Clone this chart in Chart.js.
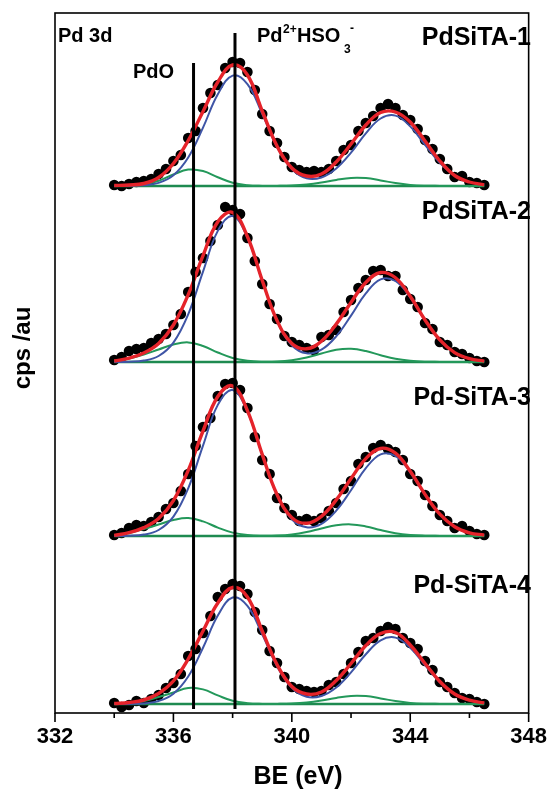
<!DOCTYPE html>
<html>
<head>
<meta charset="utf-8">
<title>Pd 3d XPS</title>
<script src="https://cdn.jsdelivr.net/npm/chart.js@4.4.1/dist/chart.umd.min.js"></script>
<style>
    html, body { margin: 0; padding: 0; background: #fff; }
    canvas { display: block; }
</style>
</head>
<body>
<canvas id="xpsChart" width="558" height="791"></canvas>
<script>
// Energies (eV) of the fitted curves and of the measured points
const beFit = [334, 334.5, 335, 335.5, 336, 336.5, 337, 337.5, 338, 338.5, 339, 339.5, 340,
    340.5, 341, 341.5, 342, 342.5, 343, 343.5, 344, 344.5, 345, 345.5, 346, 346.5];
const beDots = [334, 334.25, 334.5, 334.75, 335, 335.25, 335.5, 335.75, 336, 336.25, 336.5, 336.75,
    337, 337.25, 337.5, 337.75, 338, 338.25, 338.5, 338.75, 339, 339.25, 339.5, 339.75, 340,
    340.25, 340.5, 340.75, 341, 341.25, 341.5, 341.75, 342, 342.25, 342.5, 342.75, 343, 343.25,
    343.5, 343.75, 344, 344.25, 344.5, 344.75, 345, 345.25, 345.5, 345.75, 346, 346.25, 346.5];

const samples = ['PdSiTA-1', 'PdSiTA-2', 'Pd-SiTA-3', 'Pd-SiTA-4'];
// vertical shift of each spectrum (cps, stacked plot)
const offsets = [527, 351, 177, 9];

// PdSiTA-1
const fit1 = [0.5, 1, 2.5, 8.5, 22.5, 45.5, 74.5, 104, 121, 111, 75, 40, 18, 10, 12, 24, 42, 61, 73.5, 74, 64, 45, 25, 10.5, 4, 1.2];
const pd2_1 = [0, 0.1, 0.7, 3.1, 10.7, 28.5, 58.4, 91.7, 110.4, 101.9, 72.2, 39.3, 17, 7.7, 8.5, 17.5, 33.4, 52.7, 67.5, 70.4, 59.6, 41.1, 23.1, 10.5, 3.9, 1.2];
const pdo1 = [0, 0.3, 1.5, 5.2, 11.5, 16.4, 15, 8.8, 3.3, 0.8, 0.1, 0.1, 0.4, 1.4, 3.4, 6.1, 8.1, 7.9, 5.6, 2.9, 1.1, 0.3, 0.1, 0, 0, 0];
const dots1 = [1, 0, 2, 4, 5, 7, 12, 17, 25, 31, 48, 55, 78, 93, 101, 118, 124, 123, 114, 96, 72, 55, 43, 29, 19,
    16, 14, 15, 14, 17, 25, 36, 41, 55, 63, 70, 78, 82, 78, 71, 66, 57, 46, 37, 27, 17, 9, 10, 4, 3, 1];

// PdSiTA-2
const fit2 = [1, 3.8, 9, 18.5, 37, 67.3, 106.3, 140.2, 149.6, 125.5, 81.6, 41.5, 18.6, 13.2, 20.8, 37.9, 59.6, 79.5, 89.5, 84.2, 65.7, 42, 22.1, 9.4, 3.3, 0.9];
const pd2_2 = [0, 0.3, 1.4, 6, 19.4, 47.7, 90.4, 131.1, 145.9, 124.4, 81.3, 41, 16.8, 8.7, 12.3, 25.7, 46.4, 68.6, 82.7, 81, 64.5, 41.7, 22, 9.4, 3.3, 0.9];
const pdo2 = [0.8, 3.5, 7.5, 12.5, 17.5, 19.6, 16, 9.5, 4, 1.2, 0.3, 0.5, 1.8, 4.5, 8.5, 12.2, 13.2, 10.9, 6.8, 3.2, 1.2, 0.3, 0.1, 0, 0, 0];
const dots2 = [2, 5, 11, 13, 14, 19, 23, 28, 37, 48, 70, 90, 104, 121, 137, 155, 152, 148, 124, 101, 78, 58, 43, 26, 20,
    17, 14, 12, 25, 27, 32, 50, 62, 74, 82, 91, 92, 86, 86, 72, 63, 55, 39, 33, 20, 17, 10, 8, 4, 1, 0];

// Pd-SiTA-3
const fit3 = [0.7, 3.3, 8.4, 17.5, 35.4, 65.7, 105, 139.5, 150, 125.4, 81.6, 41.5, 18.4, 12.7, 19.7, 36.1, 57.4, 77.4, 87.7, 82.8, 64.7, 41.6, 21.8, 9.3, 3.2, 0.9];
const pd2_3 = [0, 0.3, 1.4, 6, 19.4, 47.7, 90.4, 131.1, 145.9, 124.4, 81.3, 41, 16.8, 8.7, 12.2, 25.4, 45.8, 67.8, 81.7, 80, 63.7, 41.3, 21.7, 9.3, 3.2, 0.9];
const pdo3 = [0.7, 3, 7, 11.5, 16, 18, 14.6, 8.4, 3.4, 1, 0.3, 0.5, 1.6, 4, 7.5, 10.7, 11.6, 9.6, 6, 2.8, 1, 0.3, 0.1, 0, 0, 0];
const dots3 = [1, 3, 8, 11, 10, 14, 19, 27, 33, 45, 62, 90, 109, 118, 140, 152, 153, 146, 128, 99, 76, 62, 38, 28, 21,
    15, 17, 15, 18, 25, 33, 47, 55, 72, 79, 88, 91, 87, 84, 76, 62, 55, 41, 30, 21, 15, 8, 10, 5, 2, 1];

// Pd-SiTA-4
const fit4 = [0.5, 1.5, 4, 10.5, 23, 45, 73, 101, 116.5, 107, 73, 39.5, 17.5, 10, 12, 23.5, 40.5, 58.5, 70.5, 71.5, 59, 40.5, 22.5, 10, 3.8, 1.1];
const pd2_4 = [0, 0.1, 0.6, 3, 10.3, 27.5, 56.3, 88.4, 106.5, 98.2, 69.6, 37.9, 16.3, 7.3, 8, 16.5, 31.6, 49.7, 63.7, 66.4, 56.3, 38.8, 21.8, 9.9, 3.7, 1.1];
const pdo4 = [0, 1, 3, 7, 11.5, 16, 14.6, 8.6, 3.2, 0.8, 0.1, 0.1, 0.4, 1.4, 3.4, 6.1, 8.1, 7.9, 5.6, 2.9, 1.1, 0.3, 0.1, 0, 0, 0];
const dots4 = [1, -3, -1, 3, 1, 5, 9, 16, 21, 30, 48, 55, 71, 88, 107, 115, 120, 118, 110, 92, 74, 53, 41, 27, 17,
    15, 13, 12, 13, 19, 22, 30, 41, 52, 63, 66, 73, 77, 75, 66, 61, 55, 43, 34, 22, 17, 11, 6, 5, 2, 0];

// reference positions (eV) and the height where each marker line stops
const markerBE = [336.68, 338.08];
const markerTop = [650, 680];

const fits = [fit1, fit2, fit3, fit4];
const pd2Parts = [pd2_1, pd2_2, pd2_3, pd2_4];
const pdoParts = [pdo1, pdo2, pdo3, pdo4];
const dots = [dots1, dots2, dots3, dots4];

const FONT = '"Liberation Sans", Arial, sans-serif';

function toPoints(xs, ys, offset) {
    return xs.map((x, i) => ({ x: x, y: ys[i] + offset }));
}

const datasets = [];

markerBE.forEach((be, i) => {
    datasets.push({
        data: [{ x: be, y: 4 }, { x: be, y: markerTop[i] }],
        borderColor: '#000', borderWidth: 3, pointRadius: 0, order: -1
    });
});

samples.forEach((name, i) => {
    const off = offsets[i];
    datasets.push({
        label: name + ' fit', data: toPoints(beFit, fits[i], off),
        borderColor: '#e5232a', borderWidth: 3.4, tension: 0.4, pointRadius: 0, order: 0
    });
    datasets.push({
        label: name + ' Pd2+', data: toPoints(beFit, pd2Parts[i], off),
        borderColor: '#3f55a6', borderWidth: 2, tension: 0.4, pointRadius: 0, order: 1
    });
    datasets.push({
        label: name + ' PdO', data: toPoints(beFit, pdoParts[i], off),
        borderColor: '#23985a', borderWidth: 2, tension: 0.4, pointRadius: 0, order: 2
    });
    datasets.push({
        label: name + ' background', data: [{ x: beFit[0], y: off }, { x: beFit[beFit.length - 1], y: off }],
        borderColor: '#1e8a50', borderWidth: 2.5, pointRadius: 0, order: 3
    });
    datasets.push({
        label: name, data: toPoints(beDots, dots[i], off),
        showLine: false, pointRadius: 5.3, pointBackgroundColor: '#000', pointBorderWidth: 0, order: 4
    });
});

/**
 * Cadre, petites graduations et textes
 */
const decorPlugin = {
    id: 'decor',
    afterDraw(chart) {
        const ctx = chart.ctx;
        const area = chart.chartArea;
        const xs = chart.scales.x;

        ctx.save();
        ctx.strokeStyle = '#000';
        ctx.lineWidth = 1.6;
        ctx.strokeRect(area.left, area.top, area.right - area.left, area.bottom - area.top);

        // graduations vers l'extérieur
        for (let v = 332; v <= 348; v += 2) {
            const px = xs.getPixelForValue(v);
            const len = (v % 4 === 0) ? 9 : 5;
            ctx.beginPath();
            ctx.moveTo(px, area.bottom);
            ctx.lineTo(px, area.bottom + len);
            ctx.stroke();
        }

        ctx.fillStyle = '#000';
        ctx.textBaseline = 'middle';
        ctx.textAlign = 'left';
        ctx.font = 'bold 20px ' + FONT;
        ctx.fillText('Pd 3d', 58, 36);
        ctx.fillText('PdO', 133, 72);
        ctx.fillText('Pd', 257, 36);
        ctx.fillText('HSO', 297, 36);
        ctx.font = 'bold 12px ' + FONT;
        ctx.fillText('2+', 283, 30);
        ctx.fillText('3', 344, 50);
        ctx.fillText('-', 350, 29);

        ctx.textAlign = 'right';
        ctx.font = 'bold 25px ' + FONT;
        const labelY = [38, 212, 398, 586];
        samples.forEach((name, i) => ctx.fillText(name, 531, labelY[i]));

        ctx.textAlign = 'center';
        ctx.fillText('BE (eV)', 298, 777);

        ctx.translate(23, 348);
        ctx.rotate(-Math.PI / 2);
        ctx.font = 'bold 24px ' + FONT;
        ctx.fillText('cps /au', 0, 0);
        ctx.restore();
    }
};

new Chart(document.getElementById('xpsChart'), {
    type: 'line',
    data: { datasets: datasets },
    options: {
        responsive: false,
        animation: false,
        devicePixelRatio: 1,
        layout: { padding: { top: 13, right: 20, left: 0, bottom: 0 } },
        plugins: { legend: { display: false }, tooltip: { enabled: false } },
        scales: {
            x: {
                type: 'linear',
                min: 332,
                max: 348,
                grid: { display: false, drawTicks: false },
                border: { display: false },
                ticks: {
                    stepSize: 4,
                    autoSkip: false,
                    maxRotation: 0,
                    padding: 11,
                    color: '#000',
                    font: { family: FONT, size: 22, weight: 'bold' }
                },
                afterFit(scale) { scale.height = 78; }
            },
            y: {
                min: 0,
                max: 700,
                grid: { display: false, drawTicks: false },
                border: { display: false },
                ticks: { display: false },
                afterFit(scale) { scale.width = 55; }
            }
        }
    },
    plugins: [decorPlugin]
});
</script>
</body>
</html>
